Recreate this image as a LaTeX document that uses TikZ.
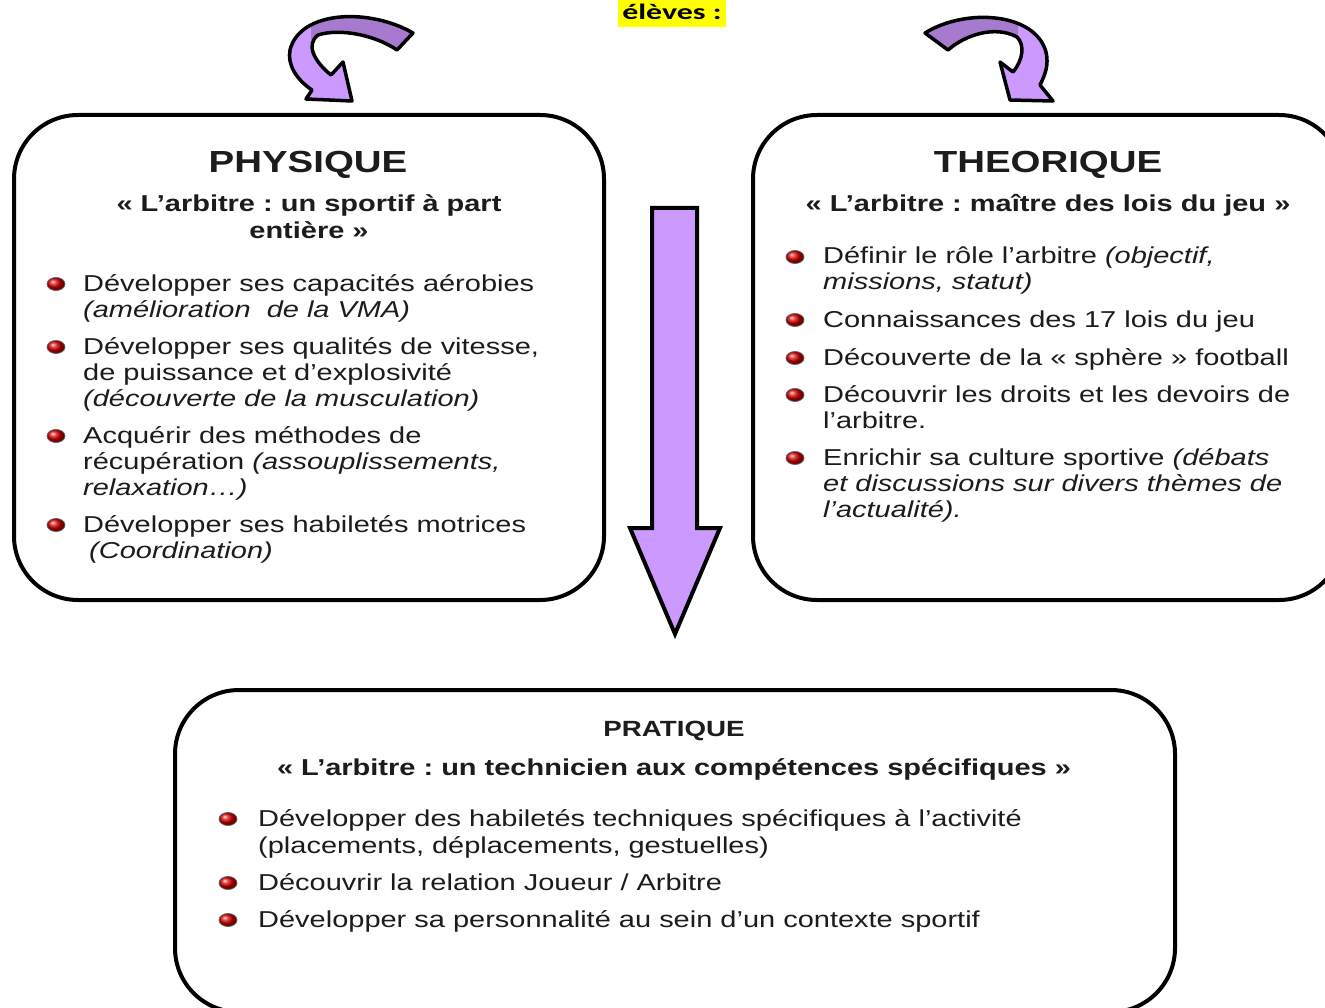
\documentclass[tikz,border=0pt]{standalone}
\usepackage{fontspec}
\setmainfont{Liberation Sans}[FakeStretch=1.26]
\newfontfamily\calib{Carlito}
\usetikzlibrary{shapes.geometric}
\definecolor{plight}{RGB}{204,153,255}
\definecolor{pdark}{RGB}{166,122,206}
\definecolor{hl}{RGB}{255,255,0}
\definecolor{ink}{RGB}{28,28,28}
\frenchspacing
\tikzset{
  panel/.style={draw=black, line width=4pt, rounded corners=64pt, fill=white, inner sep=0pt},
  titletxt/.style={font=\fontsize{30.5}{32}\selectfont\bfseries, text=ink, anchor=base, inner sep=0pt},
  smalltitle/.style={font=\fontsize{22}{24}\selectfont\bfseries, text=ink, anchor=base, inner sep=0pt},
  subtxt/.style={font=\fontsize{23}{26}\selectfont\bfseries, text=ink, anchor=base, inner sep=0pt},
  txtline/.style={font=\fontsize{23}{26}\selectfont, text=ink, anchor=base west, inner sep=0pt},
  bullet/.style={ellipse, minimum width=18pt, minimum height=13pt, inner sep=0pt, draw=black!60, line width=0.8pt, shade, ball color=red!85!black},
  bigarrow/.style={draw=black, line width=4pt, line join=miter, fill=plight},
  curvedge/.style={draw=black, line width=3.5pt, line join=round},
}
\begin{document}
\begin{tikzpicture}[x=1pt,y=-1pt]
\useasboundingbox (0,0) rectangle (1325,1008);
\clip (0,0) rectangle (1325,1008);

% header fragment
\node[fill=hl, minimum width=108pt, minimum height=30pt, inner sep=0pt] (eleves) at (672,12) {\scalebox{1.45}[1]{\calib\bfseries\fontsize{22}{22}\selectfont élèves :}};

% panels
\node[panel, minimum width=590pt, minimum height=485pt] (phys) at (309,357.5) {};
\node[panel, minimum width=590pt, minimum height=485pt] (theo) at (1048,357.5) {};
\node[panel, minimum width=1000pt, minimum height=322pt] (prat) at (675,851) {};

% big down arrow
\draw[bigarrow] (652,208) -- (697,208) -- (697,528) -- (720,528) -- (675,634) -- (630,528) -- (652,528) -- cycle;

% left curved arrow
\begin{scope}
  \clip (413,33) .. controls (370,8) and (300,10) .. (290,50) .. controls (287,65) and (297,80) .. (312,90) -- (306,99) -- (352,101) -- (343,62) -- (331,75) .. controls (315,62) and (305,45) .. (318,35) .. controls (340,28) and (375,35) .. (397,50) -- cycle;
  \fill[plight] (280,0) rectangle (420,110);
  \fill[pdark] (311,0) rectangle (420,52);
\end{scope}
\draw[curvedge] (413,33) .. controls (370,8) and (300,10) .. (290,50) .. controls (287,65) and (297,80) .. (312,90) -- (306,99) -- (352,101) -- (343,62) -- (331,75) .. controls (315,62) and (305,45) .. (318,35) .. controls (340,28) and (375,35) .. (397,50) -- cycle;

% right curved arrow
\begin{scope}
  \clip (925,33) .. controls (965,8) and (1035,12) .. (1046,52) .. controls (1049,65) and (1045,75) .. (1040,85) -- (1053,101) -- (1010,100) -- (1000,62) -- (1013,72) .. controls (1023,60) and (1025,45) .. (1017,37) .. controls (995,25) and (965,35) .. (948,50) -- cycle;
  \fill[plight] (915,0) rectangle (1060,110);
  \fill[pdark] (915,0) rectangle (1018,50);
\end{scope}
\draw[curvedge] (925,33) .. controls (965,8) and (1035,12) .. (1046,52) .. controls (1049,65) and (1045,75) .. (1040,85) -- (1053,101) -- (1010,100) -- (1000,62) -- (1013,72) .. controls (1023,60) and (1025,45) .. (1017,37) .. controls (995,25) and (965,35) .. (948,50) -- cycle;

% ---- PHYSIQUE ----
\node[titletxt] (pt) at (308,173) {PHYSIQUE};
\node[subtxt] (ps1) at (309,212) {« L’arbitre : un sportif à part};
\node[subtxt] (ps2) at (309,239) {entière »};
\node[bullet] (pb1) at (56,284) {};
\node[bullet] (pb2) at (56,347) {};
\node[bullet] (pb3) at (56,436) {};
\node[bullet] (pb4) at (56,525) {};
\node[txtline] (pl1) at (83,291) {Développer ses capacités aérobies};
\node[txtline] (pl2) at (83,317) {\itshape (amélioration~ de la VMA)};
\node[txtline] (pl3) at (83,354) {Développer ses qualités de vitesse,};
\node[txtline] (pl4) at (83,380) {de puissance et d’explosivité};
\node[txtline] (pl5) at (83,406) {\itshape (découverte de la musculation)};
\node[txtline] (pl6) at (83,443) {Acquérir des méthodes de};
\node[txtline] (pl7) at (83,469) {récupération \textit{(assouplissements,}};
\node[txtline] (pl8) at (83,495) {\itshape relaxation…)};
\node[txtline] (pl9) at (83,532) {Développer ses habiletés motrices};
\node[txtline] (pl10) at (89,558) {\itshape (Coordination)};

% ---- THEORIQUE ----
\node[titletxt] (tt) at (1048,173) {THEORIQUE};
\node[subtxt] (ts) at (1048,212) {« L’arbitre : maître des lois du jeu »};
\node[bullet] (tb1) at (795,257) {};
\node[bullet] (tb2) at (795,320) {};
\node[bullet] (tb3) at (795,358) {};
\node[bullet] (tb4) at (795,395) {};
\node[bullet] (tb5) at (795,458) {};
\node[txtline] (tl1) at (823,264) {Définir le rôle l’arbitre \textit{(objectif,}};
\node[txtline] (tl2) at (823,290) {\itshape missions, statut)};
\node[txtline] (tl3) at (823,327) {Connaissances des 17 lois du jeu};
\node[txtline] (tl4) at (823,365) {Découverte de la « sphère » football};
\node[txtline] (tl5) at (823,402) {Découvrir les droits et les devoirs de};
\node[txtline] (tl6) at (823,428) {l’arbitre.};
\node[txtline] (tl7) at (823,465) {Enrichir sa culture sportive \textit{(débats}};
\node[txtline] (tl8) at (823,491) {\itshape et discussions sur divers thèmes de};
\node[txtline] (tl9) at (823,517) {\itshape l’actualité).};

% ---- PRATIQUE ----
\node[smalltitle] (prt) at (674,736) {PRATIQUE};
\node[subtxt] (prs) at (674,775) {« L’arbitre : un technicien aux compétences spécifiques »};
\node[bullet] (rb1) at (228,819) {};
\node[bullet] (rb2) at (228,883) {};
\node[bullet] (rb3) at (228,920) {};
\node[txtline] (rl1) at (258,826) {Développer des habiletés techniques spécifiques à l’activité};
\node[txtline] (rl2) at (258,853) {(placements, déplacements, gestuelles)};
\node[txtline] (rl3) at (258,890) {Découvrir la relation Joueur / Arbitre};
\node[txtline] (rl4) at (258,927) {Développer sa personnalité au sein d’un contexte sportif};
\end{tikzpicture}
\end{document}
